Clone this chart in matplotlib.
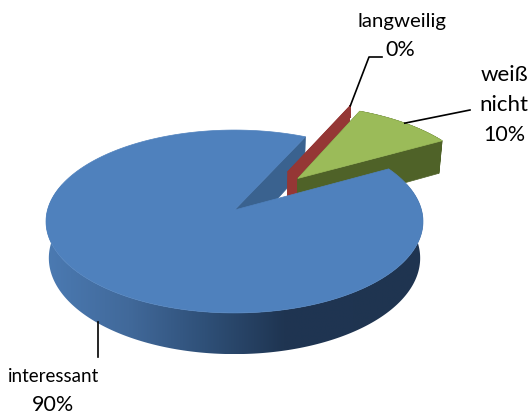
import numpy as np
import matplotlib
matplotlib.use("Agg")
import matplotlib.pyplot as plt
from matplotlib.colors import LinearSegmentedColormap
from matplotlib.patches import Polygon

# --- Data ---
categories = ["interessant", "langweilig", "weiß", "nicht"]
values = [90, 0, 10]

# --- Pie settings ---
START_ANGLE = 29     # degrees, slices run clockwise from here
EXPLODE = [0.0, 0.54, 0.51]
EXPLODE_DIR = [None, 56, 46]   # direction the loose slices are pulled out
CX, CY = 234.5, 210  # centre of the top face in pixels
RX, RY = 187, 90
PERSP = 0.1257
DEPTH = 36
TOP_COLORS = ["#4F81BD", "#953735", "#9BBB59"]
WALL_COLORS = ["#3A628F", "#953735", "#4F6228"]

plt.rcParams["font.family"] = ["Lato", "DejaVu Sans"]


def project(x, y, z=0.0):
    """World position on the unit pie to pixels, z=1 is the bottom plane."""
    d = 1 + PERSP * np.asarray(y)
    px = CX + RX * np.asarray(x) / d * (1 - 0.015 * z)
    py = CY - RY * np.asarray(y) / d + DEPTH * z / d
    return np.column_stack([px, py])


def polar(offset, deg):
    rad = np.radians(deg)
    return offset[0] + np.cos(rad), offset[1] + np.sin(rad)


# slice angles from the values
total = sum(values)
slices = []
a0 = START_ANGLE
for i, v in enumerate(values):
    a1 = a0 - v / total * 360
    mid = (a0 + a1) / 2 if EXPLODE_DIR[i] is None else EXPLODE_DIR[i]
    off = (EXPLODE[i] * np.cos(np.radians(mid)), EXPLODE[i] * np.sin(np.radians(mid)))
    slices.append((a0, a1, off))
    a0 = a1

fig = plt.figure(figsize=(5.3, 4.18), dpi=100)
ax = fig.add_axes([0, 0, 1, 1])
ax.axis("off")


def top_face(i):
    a_start, a_end, off = slices[i]
    th = np.linspace(a_start, a_end, 200)
    x, y = polar(off, th)
    return (np.r_[off[0], x], np.r_[off[1], y])


def add_extrusion(i, first=0):
    # walls between top and bottom plane of a slice
    x, y = top_face(i)
    x = np.r_[x, x[0]]
    y = np.r_[y, y[0]]
    top = project(x, y)
    bottom = project(x, y, 1)
    for k in range(first, len(x) - 1):
        quad = [top[k], top[k + 1], bottom[k + 1], bottom[k]]
        ax.add_patch(Polygon(quad, closed=True, fc=WALL_COLORS[i], ec=WALL_COLORS[i], lw=0.5))


def add_top(i, zorder=None):
    x, y = top_face(i)
    ax.add_patch(Polygon(project(x, y), closed=True, fc=TOP_COLORS[i], ec=TOP_COLORS[i], lw=0.5, zorder=zorder))


# inner wall of the blue slice only, its rim gets the gradient below
add_extrusion(0, first=200)
add_extrusion(1)
add_extrusion(2)
add_top(2)

# red slice has no area, so only a thin rim on the top
red_off = slices[1][2]
rx, ry = polar(red_off, slices[1][0])
ax.plot(*project(np.array([red_off[0], rx]), np.array([red_off[1], ry])).T, color=TOP_COLORS[1], lw=1)

# front of the blue slice with a shaded gradient
th = np.linspace(slices[0][0], slices[0][1], 720)
th = th[np.sin(np.radians(th)) < 0.3]
th = np.sort(th)
fx, fy = polar((0, 0), th)
outline = np.vstack([project(fx, fy), project(fx, fy, 1)[::-1]])
shade = LinearSegmentedColormap.from_list(
    "shade", [(0, "#4B7AB2"), (0.22, "#41699A"), (0.42, "#2F5078"), (0.63, "#1F3552"), (1, "#1F3450")])
grad = ax.imshow(np.linspace(0, 1, 256).reshape(1, -1), cmap=shade, aspect="auto", zorder=2.5,
                 extent=(outline[:, 0].min(), outline[:, 0].max(), outline[:, 1].max(), outline[:, 1].min()))
clip = Polygon(outline, closed=True, transform=ax.transData, fc="none", ec="none")
ax.add_patch(clip)
grad.set_clip_path(clip)

add_top(0, zorder=3)

ax.set_xlim(0, 530)
ax.set_ylim(418, 0)

# --- Leader lines ---
blue_mid = (slices[0][0] + slices[0][1]) / 2
bx, by = polar(slices[0][2], blue_mid)
b = project(bx, by, 1)[0]
ax.plot([b[0] + 2, b[0] + 2], [b[1], 357], color="black", lw=1.2, zorder=4)

r = project(rx, ry)[0]
ax.plot([r[0], 369, 382], [r[1], 57, 57], color="black", lw=1.2, zorder=4)

green_mid = (slices[2][0] + slices[2][1]) / 2
gx, gy = polar(slices[2][2], green_mid)
g = project(gx, gy)[0]
ax.plot([g[0], 470], [g[1], 110], color="black", lw=1.2, zorder=4)

# --- Labels ---
ax.text(53.5, 376, categories[0], ha="center", va="center", fontsize=13.5)
ax.text(53, 405, f"{values[0]}%", ha="center", va="center", fontsize=15.5)
ax.text(402, 22, categories[1], ha="center", va="center", fontsize=14.7)
ax.text(400, 50, f"{values[1]}%", ha="center", va="center", fontsize=15.5)
ax.text(504, 75, categories[2], ha="center", va="center", fontsize=16)
ax.text(504, 105, categories[3], ha="center", va="center", fontsize=16)
ax.text(504, 135, f"{values[2]}%", ha="center", va="center", fontsize=15.5)

fig.savefig("out.png", dpi=100)
